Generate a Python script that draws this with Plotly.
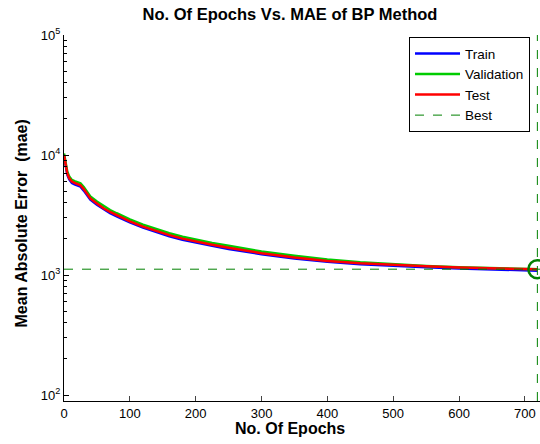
import plotly.graph_objects as go

epochs = [0, 2, 5, 8, 12, 16, 20, 25, 30, 35, 40, 50, 60, 70, 80, 90, 100, 120, 140,
          160, 180, 200, 225, 250, 275, 300, 350, 400, 450, 500, 550, 600, 650, 700, 719]
train_mae = [9900, 8300, 6850, 6250, 5850, 5700, 5600, 5450, 5050, 4580, 4250, 3850, 3520,
             3270, 3080, 2890, 2740, 2480, 2270, 2100, 1970, 1860, 1750, 1650, 1570, 1490,
             1375, 1290, 1230, 1190, 1160, 1135, 1115, 1095, 1085]
val_mae = [10300, 8800, 7250, 6600, 6200, 6050, 5950, 5800, 5400, 4900, 4520, 4100, 3750,
           3480, 3270, 3070, 2910, 2630, 2410, 2230, 2080, 1970, 1850, 1750, 1660, 1570,
           1445, 1345, 1275, 1225, 1190, 1160, 1140, 1122, 1118]
test_mae = [10000, 8500, 7000, 6400, 6000, 5850, 5750, 5600, 5200, 4700, 4350, 3950, 3600,
            3350, 3150, 2950, 2800, 2530, 2320, 2150, 2010, 1900, 1790, 1690, 1600, 1520,
            1400, 1310, 1250, 1210, 1180, 1155, 1135, 1120, 1115]
best_epoch = 719
best_value = 1118
x_range = [0, 723]
y_decades = [2, 3, 4, 5]
y_minor = [200, 300, 400, 500, 600, 700, 800, 900,
           2000, 3000, 4000, 5000, 6000, 7000, 8000, 9000,
           20000, 30000, 40000, 50000, 60000, 70000, 80000, 90000]
x_ticks = [0, 100, 200, 300, 400, 500, 600, 700]

FONT = "Liberation Sans, Arial, sans-serif"
GREEN_BEST = "rgb(0,128,0)"
Y_RANGE = [1.95, 5.0]

fig = go.Figure()
fig.add_trace(go.Scatter(x=epochs, y=train_mae, mode="lines", name="Train",
                         line=dict(color="rgb(0,0,255)", width=2.5)))
fig.add_trace(go.Scatter(x=epochs, y=val_mae, mode="lines", name="Validation",
                         line=dict(color="rgb(0,204,0)", width=2.5)))
fig.add_trace(go.Scatter(x=epochs, y=test_mae, mode="lines", name="Test",
                         line=dict(color="rgb(255,0,0)", width=2.5)))
fig.add_trace(go.Scatter(x=[best_epoch, best_epoch], y=[10 ** Y_RANGE[0], 10 ** Y_RANGE[1]],
                         mode="lines", name="Best",
                         line=dict(color=GREEN_BEST, width=1, dash="dash")))
fig.add_trace(go.Scatter(x=x_range, y=[best_value, best_value], mode="lines",
                         showlegend=False, line=dict(color=GREEN_BEST, width=1, dash="dash")))
fig.add_trace(go.Scatter(x=[best_epoch], y=[best_value], mode="markers", showlegend=False,
                         marker=dict(symbol="circle-open", size=18, color=GREEN_BEST,
                                     line=dict(color=GREEN_BEST, width=2.5))))
# helper trace so the minor-tick overlay axis is drawn
fig.add_trace(go.Scatter(x=[best_epoch], y=[best_value], yaxis="y2", mode="markers",
                         showlegend=False, hoverinfo="skip",
                         marker=dict(size=1, opacity=0)))

fig.update_layout(
    width=540, height=444,
    margin=dict(l=64, r=0, t=35, b=43),
    paper_bgcolor="white", plot_bgcolor="white",
    font=dict(family=FONT, size=13, color="black"),
    title=dict(text="<b>No. Of Epochs Vs. MAE of BP Method</b>", xref="paper",
               x=(290 - 64) / 476, xanchor="center", yref="container",
               y=1 - 14 / 444, yanchor="middle",
               font=dict(size=16.5, family=FONT, color="black")),
    legend=dict(x=0.979, xanchor="right", y=0.994, yanchor="top",
                bgcolor="white", bordercolor="black", borderwidth=1,
                font=dict(size=13.5, family=FONT), itemwidth=45,
                tracegroupgap=0),
    showlegend=True,
    yaxis2=dict(overlaying="y", type="log", range=Y_RANGE, side="left", anchor="x",
                tickvals=y_minor, ticks="inside", ticklen=3, tickcolor="black",
                showticklabels=False, showline=False, showgrid=False, zeroline=False),
)
fig.update_xaxes(range=x_range, tickvals=x_ticks, ticks="inside", ticklen=5,
                 showline=True, linecolor="black", linewidth=1, showgrid=False,
                 zeroline=False, tickfont=dict(size=13), mirror=False)
fig.layout.yaxis.update(type="log", range=Y_RANGE,
                        tickvals=[10 ** d for d in y_decades],
                        ticktext=["10<sup>%d</sup>" % d for d in y_decades],
                        ticks="inside", ticklen=5, tickcolor="black", showline=True,
                        linecolor="black", linewidth=1, showgrid=False, zeroline=False,
                        tickfont=dict(size=13))
fig.add_annotation(text="<b>No. Of Epochs</b>", xref="paper", yref="paper",
                   x=(290 - 64) / 476, y=-(428 - 401) / 366, yanchor="middle",
                   showarrow=False, font=dict(size=16, family=FONT))
fig.add_annotation(text="<b>Mean Absolute Error  (mae)</b>", xref="paper", yref="paper",
                   x=(21 - 64) / 476, y=0.485, xanchor="center", yanchor="middle",
                   textangle=-90, showarrow=False, font=dict(size=16, family=FONT))

fig.write_html("out.html")
